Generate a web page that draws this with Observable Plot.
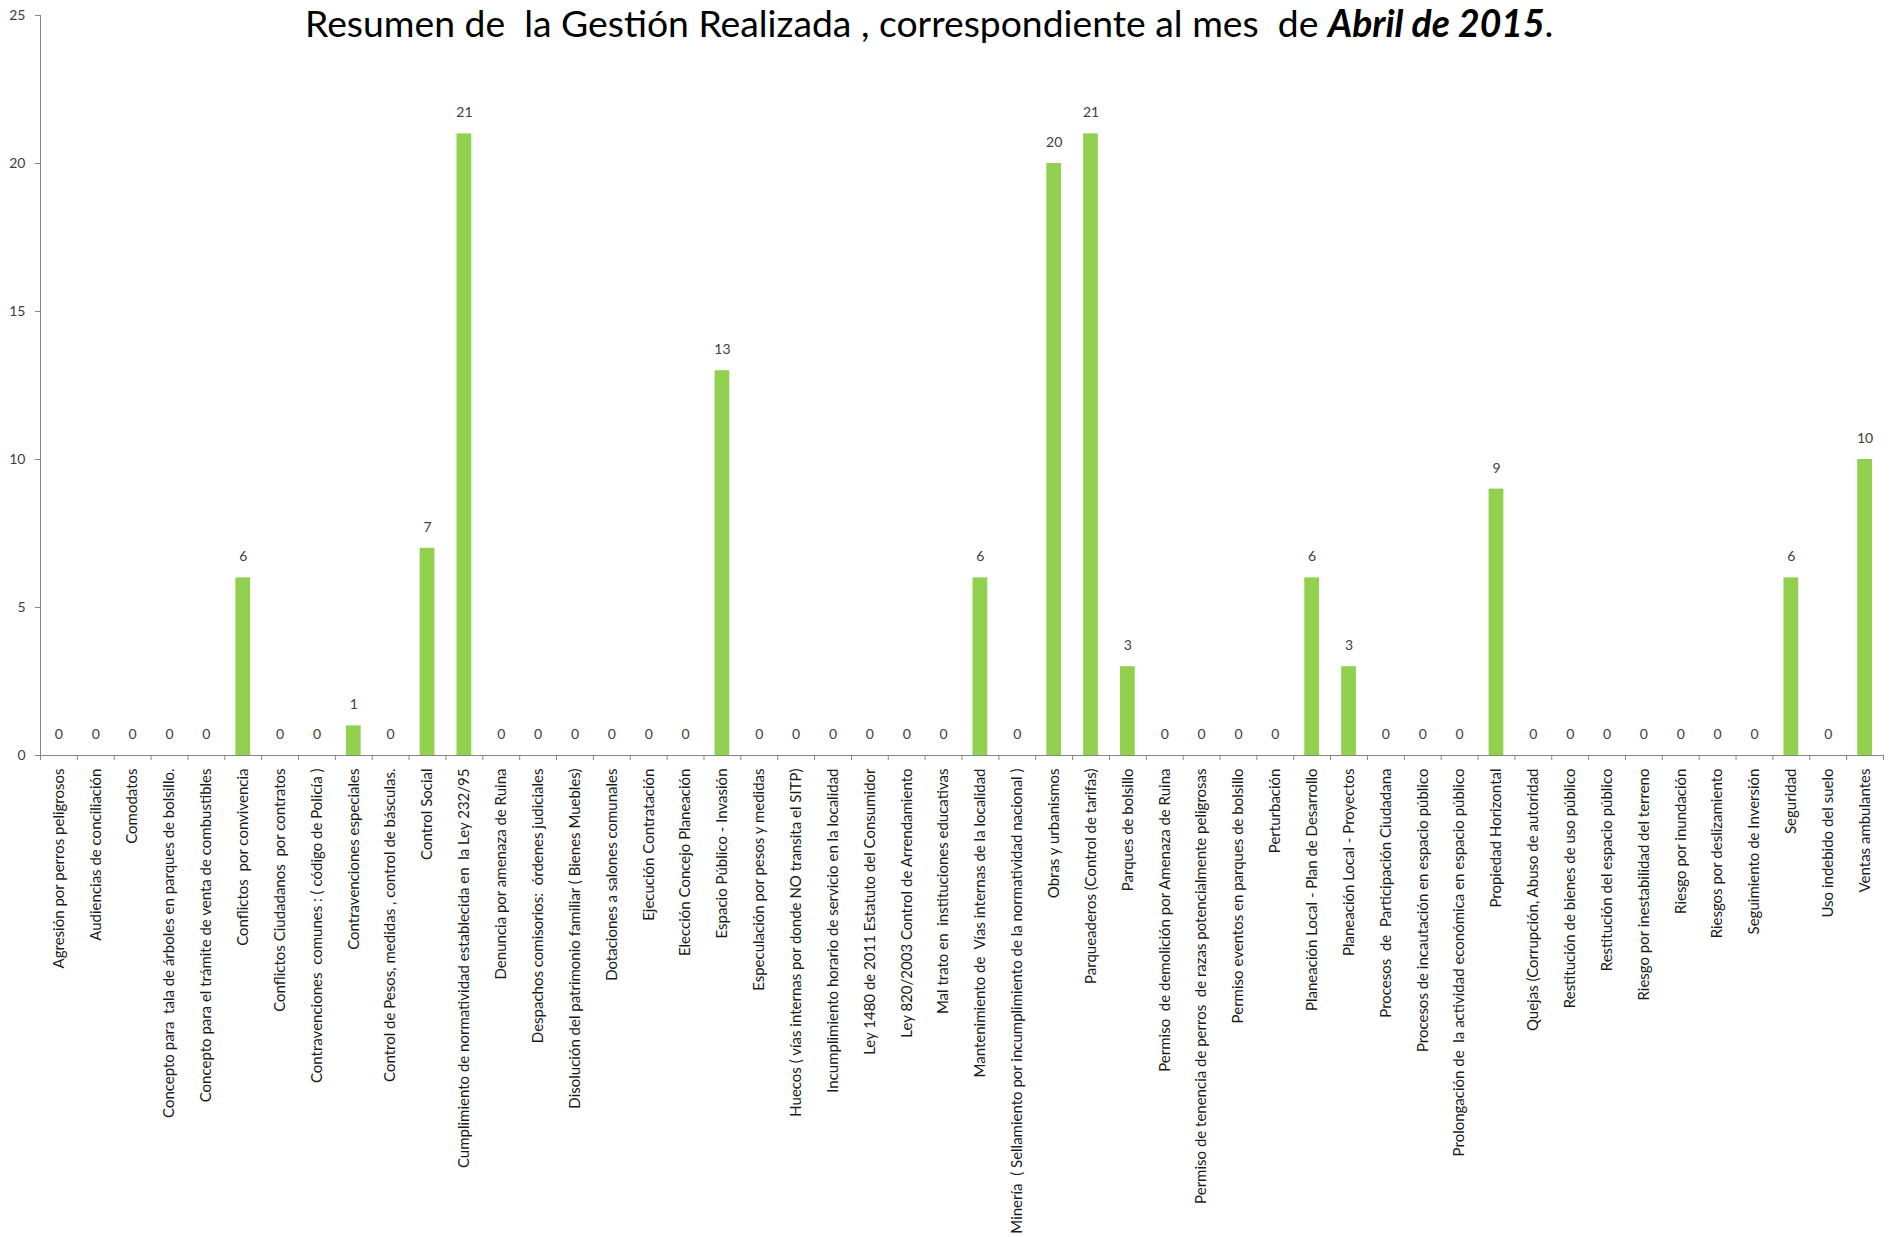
<!DOCTYPE html>
<html>
<head>
<meta charset="utf-8">
<script src="https://cdn.jsdelivr.net/npm/d3@7"></script>
<script src="https://cdn.jsdelivr.net/npm/@observablehq/plot@0.6"></script>
<style>
  html, body { margin: 0; padding: 0; background: #fff; }
  #wrap { position: relative; width: 1890px; height: 1237px; }
  #title { position: absolute; left: 305px; top: 0px; font-family: Lato, "Open Sans", sans-serif; font-size: 37.3px; line-height: 45px; color: #000; white-space: pre; }
  #title b { font-weight: bold; font-style: italic; }
</style>
</head>
<body>
<div id="wrap">
  <div id="chart"></div>
  <div id="title">Resumen de  la Gestión Realizada , correspondiente al mes  de <b>Abril de 2015</b>.</div>
</div>
<script>
const categories = [
  "Agresión por perros peligrosos",
  "Audiencias de conciliación",
  "Comodatos",
  "Concepto para  tala de árboles en parques de bolsillo.",
  "Concepto para el trámite de venta de combustibles",
  "Conflictos  por convivencia",
  "Conflictos Ciudadanos  por contratos",
  "Contravenciones  comunes : ( código de Policía )",
  "Contravenciones especiales",
  "Control de Pesos, medidas , control de básculas.",
  "Control Social",
  "Cumplimiento de normatividad establecida en  la Ley 232/95",
  "Denuncia por amenaza de Ruina",
  "Despachos comisorios:  órdenes judiciales",
  "Disolución del patrimonio familiar ( Bienes Muebles)",
  "Dotaciones a salones comunales",
  "Ejecución Contratación",
  "Elección Concejo Planeación",
  "Espacio Público - Invasión",
  "Especulación por pesos y medidas",
  "Huecos ( vías internas por donde NO transita el SITP)",
  "Incumplimiento horario de servicio en la localidad",
  "Ley 1480 de 2011 Estatuto del Consumidor",
  "Ley 820/2003 Control de Arrendamiento",
  "Mal trato en  instituciones educativas",
  "Mantenimiento de  Vías internas de la localidad",
  "Minería  ( Sellamiento por incumplimiento de la normatividad nacional )",
  "Obras y urbanismos",
  "Parqueaderos (Control de tarifas)",
  "Parques de bolsillo",
  "Permiso  de demolición por Amenaza de Ruina",
  "Permiso de tenencia de perros  de razas potencialmente peligrosas",
  "Permiso eventos en parques de bolsillo",
  "Perturbación",
  "Planeación Local - Plan de Desarrollo",
  "Planeación Local - Proyectos",
  "Procesos  de  Participación Ciudadana",
  "Procesos de incautación en espacio público",
  "Prolongación de  la actividad económica en espacio público",
  "Propiedad Horizontal",
  "Quejas (Corrupción, Abuso de autoridad",
  "Restitución de bienes de uso público",
  "Restitución del espacio público",
  "Riesgo por inestabilidad del terreno",
  "Riesgo por inundación",
  "Riesgos por deslizamiento",
  "Seguimiento de Inversión",
  "Seguridad",
  "Uso indebido del suelo",
  "Ventas ambulantes"
];
const values = [
  0, 0, 0, 0, 0, 6, 0, 0, 1, 0,
  7, 21, 0, 0, 0, 0, 0, 0, 13, 0,
  0, 0, 0, 0, 0, 6, 0, 20, 21, 3,
  0, 0, 0, 0, 6, 3, 0, 0, 0, 9,
  0, 0, 0, 0, 0, 0, 0, 6, 0, 10
];
const yTicks = [0, 5, 10, 15, 20, 25];

const data = categories.map((c, i) => ({cat: c, value: values[i]}));

const W = 1890, H = 1237, mL = 40, mR = 7, mT = 15, mB = 482;
const step = (W - mL - mR) / categories.length;
const axisColor = "#868686";

const chart = Plot.plot({
  width: W, height: H,
  marginLeft: mL, marginRight: mR, marginTop: mT, marginBottom: mB,
  style: {fontFamily: "Lato, 'Open Sans', sans-serif", fontSize: "14px", background: "white", color: "#262626", overflow: "visible"},
  x: {domain: categories, paddingInner: 0.6, paddingOuter: 0.3, axis: null},
  y: {domain: [0, 25], axis: null},
  marks: [
    Plot.barY(data, {x: "cat", y: "value", fill: "#92D050"}),
    Plot.text(data, {x: "cat", y: "value", text: d => String(d.value), dy: -21, fill: "#404040", fontSize: 14}),
    Plot.frame({anchor: "left", stroke: axisColor}),
    Plot.ruleY([0], {stroke: axisColor}),
    Plot.axisY({ticks: yTicks, tickSize: 5, tickPadding: 10, stroke: axisColor, fill: "#404040", fontSize: 14, label: null}),
    Plot.axisX({tickSize: 5, dx: -step / 2, fill: "none", stroke: axisColor, label: null}),
    Plot.axisX([categories[categories.length - 1]], {tickSize: 5, dx: step / 2, fill: "none", stroke: axisColor, label: null}),
    Plot.axisX({tickSize: 0, tickPadding: 13, tickRotate: -90, fill: "#1a1a1a", fontSize: 15, label: null, lineWidth: Infinity, textOverflow: null})
  ]
});
document.getElementById("chart").appendChild(chart);
</script>
</body>
</html>
